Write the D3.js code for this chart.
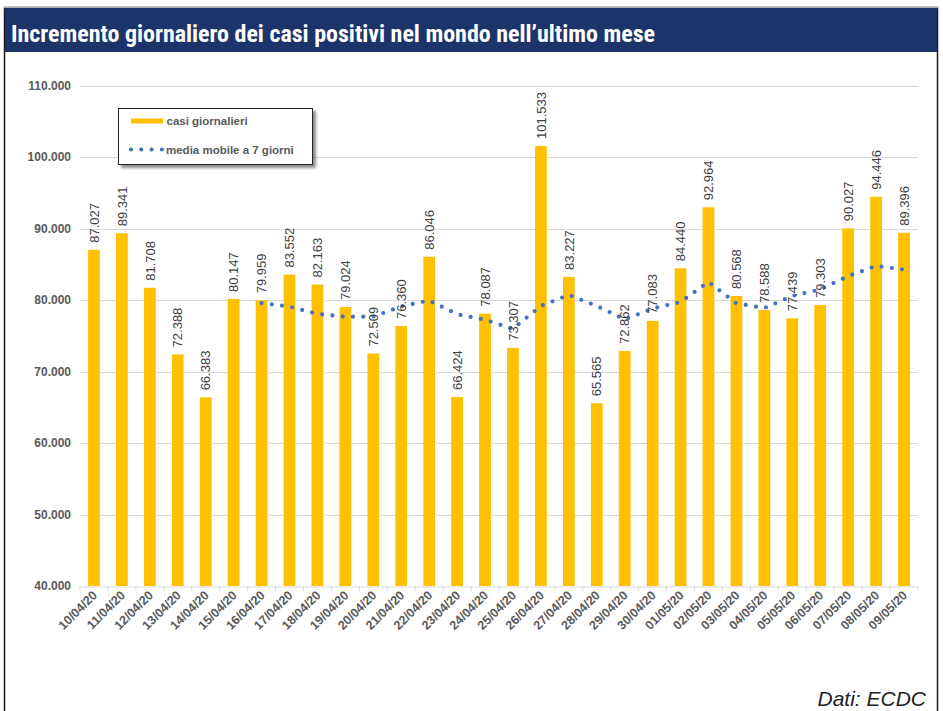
<!DOCTYPE html>
<html><head><meta charset="utf-8">
<script src="https://cdn.jsdelivr.net/npm/d3@7"></script>
<style>
html,body{margin:0;padding:0;background:#fff;}
svg{display:block;}
</style></head>
<body>
<script>
const dates = ["10/04/20","11/04/20","12/04/20","13/04/20","14/04/20","15/04/20","16/04/20","17/04/20","18/04/20","19/04/20","20/04/20","21/04/20","22/04/20","23/04/20","24/04/20","25/04/20","26/04/20","27/04/20","28/04/20","29/04/20","30/04/20","01/05/20","02/05/20","03/05/20","04/05/20","05/05/20","06/05/20","07/05/20","08/05/20","09/05/20"];
const dailyCases = [87027,89341,81708,72388,66383,80147,79959,83552,82163,79024,72509,76360,86046,66424,78087,73307,101533,83227,65565,72862,77083,84440,92964,80568,78588,77439,79303,90027,94446,89396];
const movingAvg = [null,null,null,null,null,null,79565,79068,78043,77659,77677,79102,79945,78011,77230,75965,79181,80712,79170,77286,78809,79717,82525,79530,78867,80563,81484,83333,84762,84252];
const yTicks = [40000,50000,60000,70000,80000,90000,100000,110000];
const titleText = "Incremento giornaliero dei casi positivi nel mondo nell\u2019ultimo mese";
const legendLabels = ["casi giornalieri","media mobile a 7 giorni"];
const sourceText = "Dati: ECDC";

const W = 943, H = 711;
const fmt = v => d3.format(",")(v).replace(/,/g, ".");
const svg = d3.select("body").append("svg").attr("width", W).attr("height", H)
  .style("font-family", "Arial, 'Liberation Sans', sans-serif");

const defs = svg.append("defs");
const filt = defs.append("filter").attr("id","shadow").attr("x","-10%").attr("y","-20%").attr("width","130%").attr("height","160%");
filt.append("feGaussianBlur").attr("in","SourceAlpha").attr("stdDeviation",1.6);
filt.append("feOffset").attr("dx",3).attr("dy",3).attr("result","ob");
filt.append("feComponentTransfer").append("feFuncA").attr("type","linear").attr("slope",0.45);
const fm = filt.append("feMerge"); fm.append("feMergeNode"); fm.append("feMergeNode").attr("in","SourceGraphic");

// outer frame
svg.append("rect").attr("x",4.5).attr("y",7.5).attr("width",933).attr("height",720)
  .attr("fill","#fff").attr("stroke","#1a1a1a").attr("stroke-width",1.5);
svg.append("line").attr("x1",4).attr("x2",938).attr("y1",7.5).attr("y2",7.5).attr("stroke","#b0b0b0").attr("stroke-width",1.5);
// title bar
svg.append("rect").attr("x",5).attr("y",8).attr("width",932).attr("height",44).attr("fill","#1b356b");
svg.append("text").attr("x",11).attr("y",42).attr("fill","#fff")
  .style("font-family","'Liberation Sans Narrow','Arial Narrow','Roboto Condensed',sans-serif")
  .style("font-weight","bold").style("font-size","24px")
  .attr("textLength",644).attr("lengthAdjust","spacingAndGlyphs")
  .text(titleText);

const x0 = 80, x1 = 918, yTop = 85.5, yBot = 586;
const x = d3.scaleBand().domain(dates).range([x0, x1]).paddingInner(0.58).paddingOuter(0.29);
const xb = d3.scaleBand().domain(dates).range([x0, x1]);
const y = d3.scaleLinear().domain([40000,110000]).range([yBot, yTop]);

// gridlines
svg.append("g").selectAll("line").data(yTicks.slice(1)).join("line")
  .attr("x1",x0).attr("x2",x1).attr("y1",d=>Math.round(y(d))+0.5).attr("y2",d=>Math.round(y(d))+0.5)
  .attr("stroke","#d9d9d9").attr("stroke-width",1);

// y axis labels
const yAxis = d3.axisLeft(y).tickValues(yTicks).tickFormat(fmt).tickSize(0).tickPadding(0);
const gy = svg.append("g").attr("transform",`translate(71,0)`).call(yAxis);
gy.select(".domain").remove();
gy.selectAll("text").attr("fill","#595959").style("font-size","12px").style("font-weight","bold").style("font-family","Arial, 'Liberation Sans', sans-serif");

// bars
svg.append("g").selectAll("rect").data(dailyCases).join("rect")
  .attr("x",(d,i)=>x(dates[i])).attr("width",x.bandwidth())
  .attr("y",d=>y(d)).attr("height",d=>yBot-y(d)).attr("fill","#ffc000");

// x axis
const xAxis = d3.axisBottom(xb).tickSize(0).tickPadding(0);
const gx = svg.append("g").attr("transform",`translate(0,${yBot+0.5})`).call(xAxis);
gx.select(".domain").attr("stroke","#d9d9d9").attr("stroke-width",1.2);
gx.selectAll(".tick text").remove();
// category boundary ticks
svg.append("g").selectAll("line").data(d3.range(dates.length+1)).join("line")
  .attr("x1",i=>x0+i*xb.step()).attr("x2",i=>x0+i*xb.step())
  .attr("y1",yBot).attr("y2",yBot+5).attr("stroke","#d9d9d9").attr("stroke-width",1);
svg.append("g").selectAll("text").data(dates).join("text")
  .attr("transform",d=>`translate(${xb(d)+xb.bandwidth()/2+4},${yBot+10}) rotate(-45)`)
  .attr("text-anchor","end").attr("fill","#595959")
  .style("font-size","12.5px").style("font-weight","bold")
  .text(d=>d);

// moving average dotted line
const line = d3.line().defined(d=>d!==null).x((d,i)=>x(dates[i])+x.bandwidth()/2).y(d=>y(d));
svg.append("path").datum(movingAvg).attr("d",line).attr("fill","none")
  .attr("stroke","#4472c4").attr("stroke-width",4.2).attr("stroke-linecap","round")
  .attr("stroke-dasharray","0,10.3");

// bar value labels
svg.append("g").selectAll("text").data(dailyCases).join("text")
  .attr("transform",(d,i)=>`translate(${x(dates[i])+x.bandwidth()/2},${y(d)-7}) rotate(-90)`)
  .attr("dy","0.36em").attr("fill","#404040").style("font-size","13px")
  .text(d=>fmt(d));

// legend
const lg = svg.append("g").attr("transform","translate(118.5,108.5)");
lg.append("rect").attr("width",194).attr("height",56).attr("fill","#fff").attr("stroke","#222").attr("stroke-width",1).attr("filter","url(#shadow)");
lg.append("line").attr("x1",12.5).attr("x2",44.5).attr("y1",12.5).attr("y2",12.5).attr("stroke","#ffc000").attr("stroke-width",5);
lg.append("line").attr("x1",12.5).attr("x2",45).attr("y1",41).attr("y2",41).attr("stroke","#4472c4").attr("stroke-width",4.2)
  .attr("stroke-linecap","round").attr("stroke-dasharray","0,10.3");
lg.append("text").attr("x",48).attr("y",16.5).attr("fill","#595959").style("font-size","11.5px").style("font-weight","bold").text(legendLabels[0]);
lg.append("text").attr("x",47.5).attr("y",45).attr("fill","#595959").style("font-size","11.5px").style("font-weight","bold").text(legendLabels[1]);

// source
svg.append("text").attr("x",926).attr("y",706).attr("text-anchor","end").attr("fill","#222")
  .style("font-size","21px").style("font-style","italic").text(sourceText);
</script>
</body></html>
